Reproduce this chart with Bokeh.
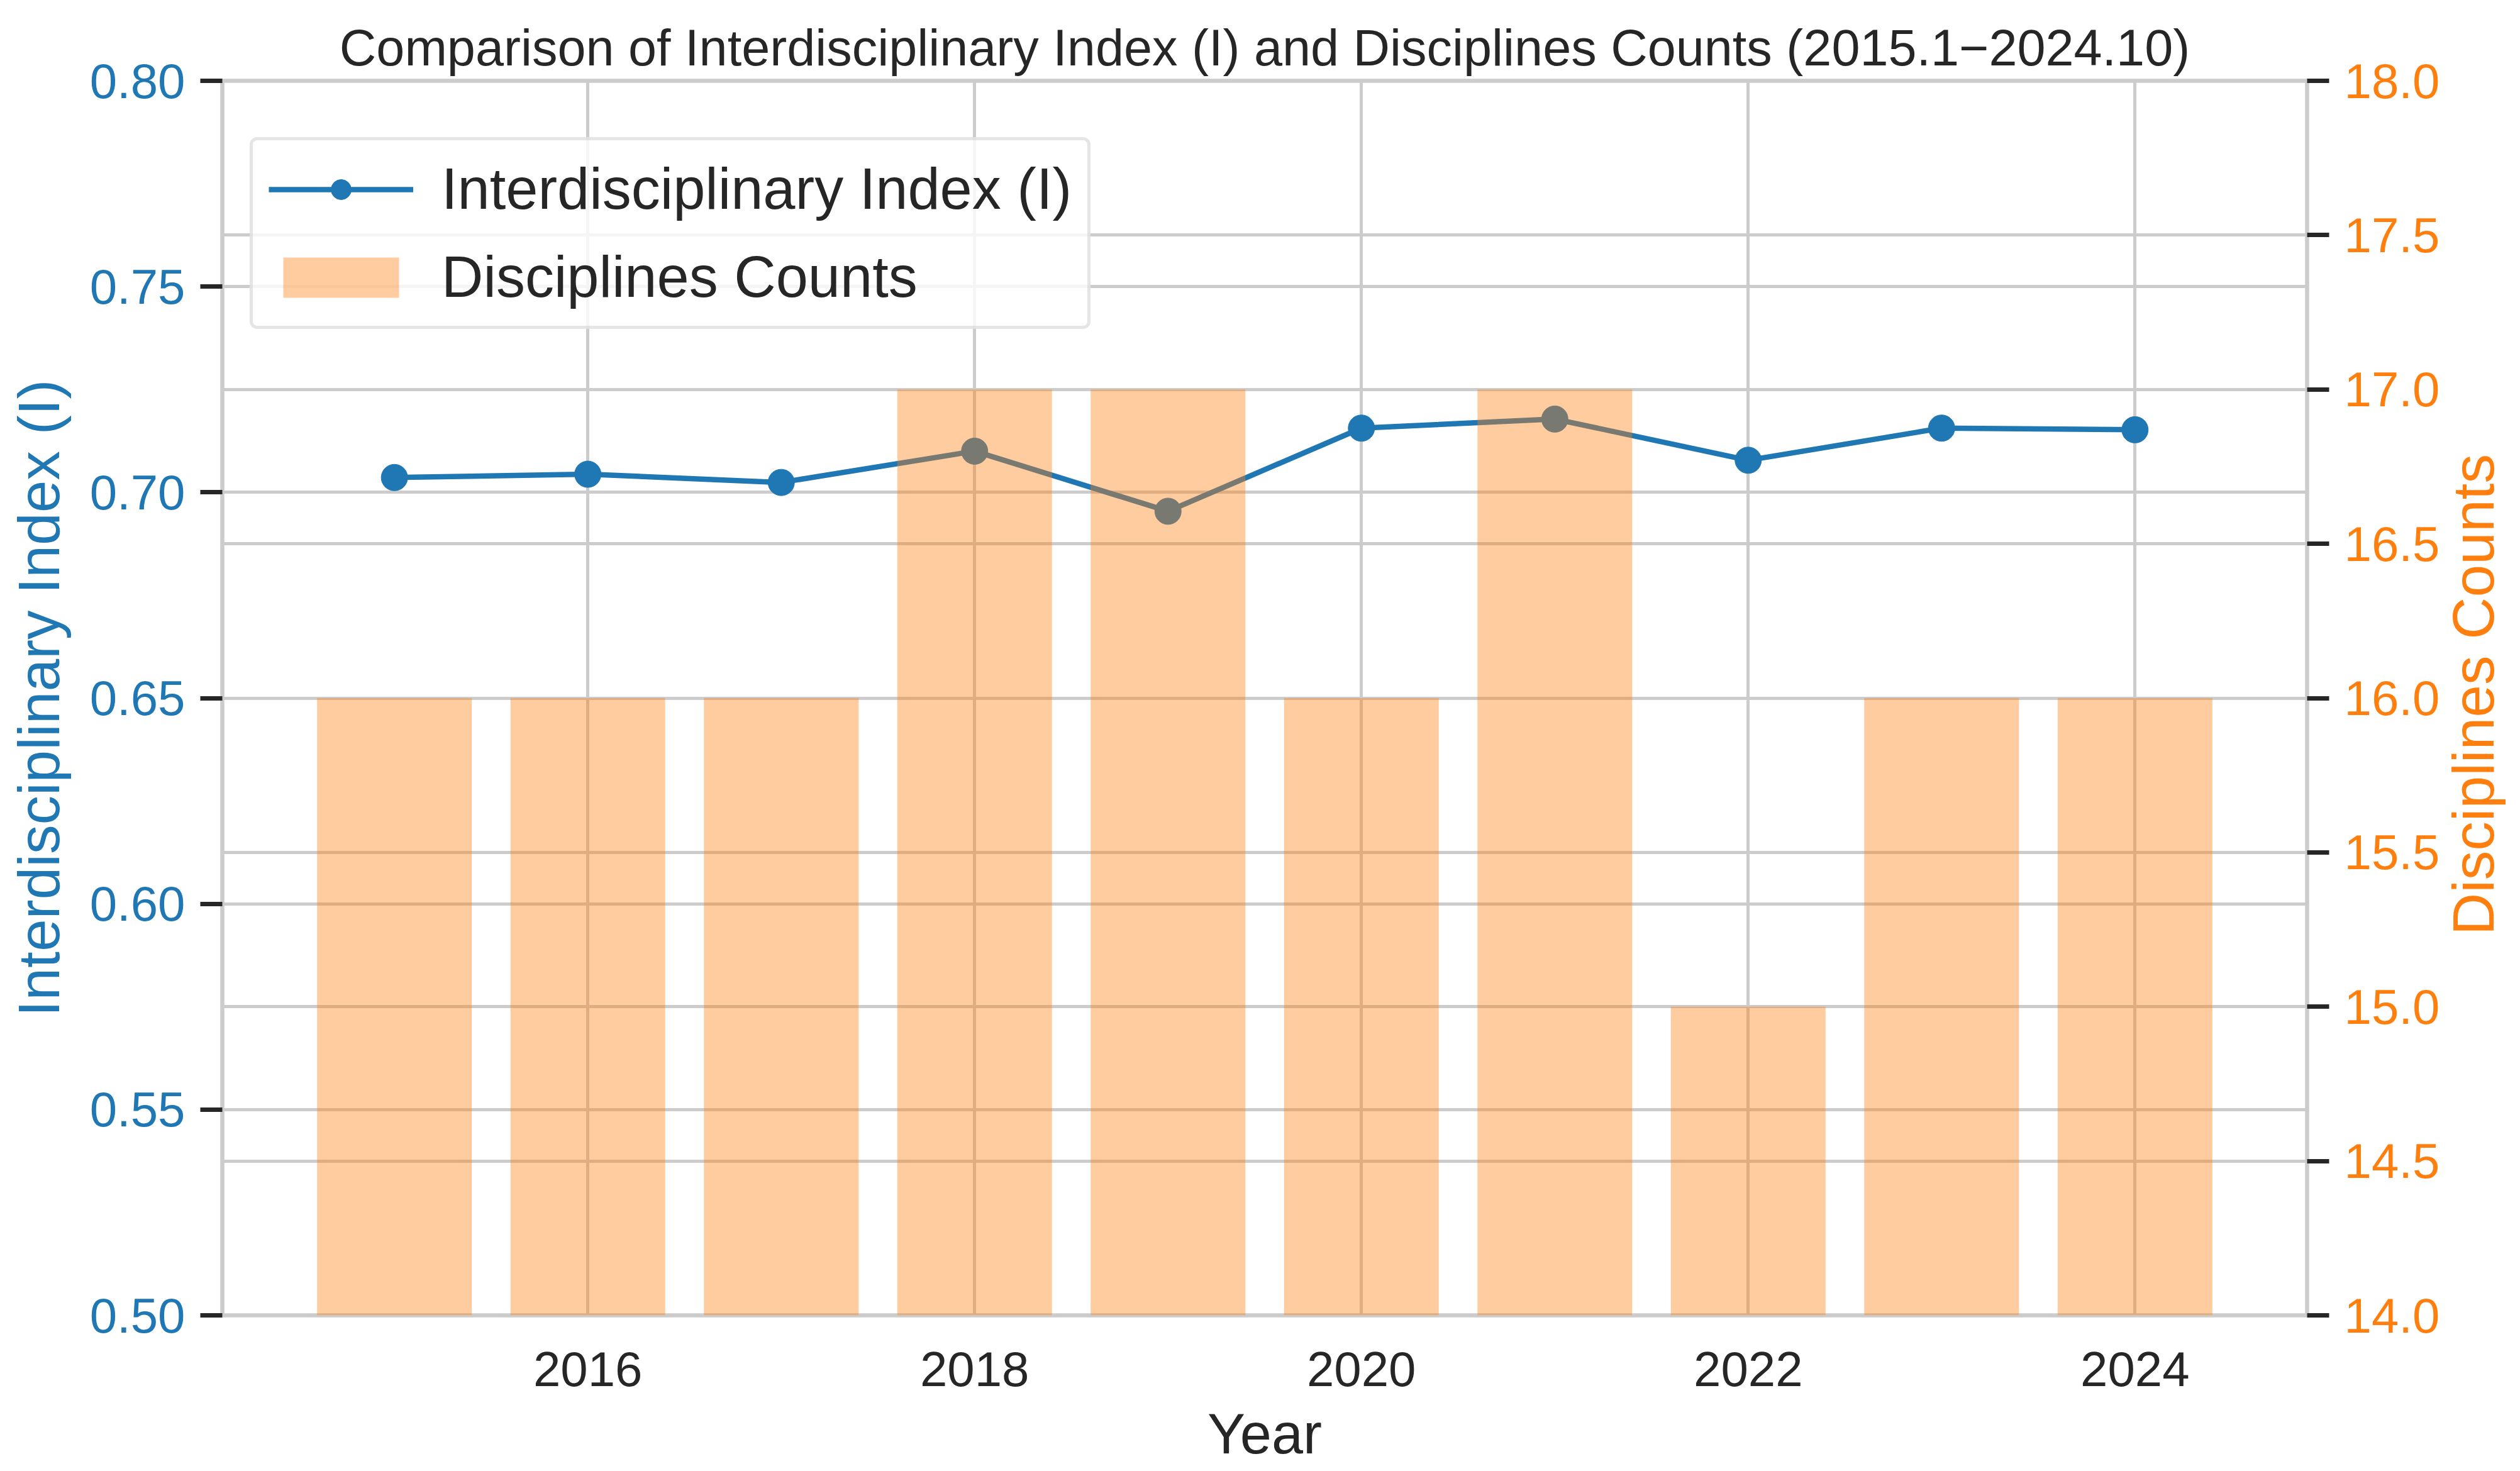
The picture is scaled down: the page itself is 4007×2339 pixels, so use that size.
import math
from bokeh.plotting import figure
from bokeh.layouts import row
from bokeh.models import (Range1d, LinearAxis, FixedTicker, Legend, LegendItem,
                          Grid, NumeralTickFormatter, ColumnDataSource)
from bokeh.core.properties import value
from bokeh.embed import file_html
from bokeh.resources import INLINE

# ---------------- data ----------------
years = [2015, 2016, 2017, 2018, 2019, 2020, 2021, 2022, 2023, 2024]
index_values = [0.7036, 0.7044, 0.7024, 0.7100, 0.6954, 0.7156, 0.7178, 0.7078, 0.7156, 0.7152]
discipline_counts = [16, 16, 16, 17, 17, 16, 17, 15, 16, 16]
x_ticks = [2016, 2018, 2020, 2022, 2024]
left_ticks = [0.50, 0.55, 0.60, 0.65, 0.70, 0.75, 0.80]
right_ticks = [14.0, 14.5, 15.0, 15.5, 16.0, 16.5, 17.0, 17.5, 18.0]

title_text = "Comparison of Interdisciplinary Index (I) and Disciplines Counts (2015.1\u22122024.10)"
x_label = "Year"
left_label = "Interdisciplinary Index (I)"
right_label = "Disciplines Counts"
line_name = "Interdisciplinary Index (I)"
bar_name = "Disciplines Counts"

# ---------------- style ----------------
FONT = "Liberation Sans"
BLUE = "#1f77b4"
ORANGE = "#ff7f0e"
TEXT = "#262626"
GRID = "#cccccc"

W, H = 4007, 2339
WP = 3882                      # main figure width, the rest holds the right axis title
ML, MR, MT, MB = 353, WP - 3671, 128, 248

p = figure(width=WP, height=H, output_backend="svg", toolbar_location=None,
           x_range=Range1d(2014.11, 2024.89), y_range=Range1d(0.50, 0.80),
           min_border_left=ML, min_border_right=MR, min_border_top=MT, min_border_bottom=MB,
           background_fill_color="white", border_fill_color="white")
p.extra_y_ranges = {"counts": Range1d(14.0, 18.0)}

p.outline_line_color = GRID
p.outline_line_width = 6.5

# title
p.title.text = title_text
p.title.text_font = FONT
p.title.text_font_size = "81px"
p.title.text_font_style = "normal"
p.title.text_color = TEXT
p.title.align = "center"
p.title.standoff = 15

# grids
p.xgrid.ticker = FixedTicker(ticks=x_ticks)
p.ygrid.ticker = FixedTicker(ticks=left_ticks)
for g in (p.xgrid, p.ygrid):
    g.grid_line_color = GRID
    g.grid_line_width = 5
g2 = Grid(dimension=1, ticker=FixedTicker(ticks=right_ticks), y_range_name="counts",
          grid_line_color=GRID, grid_line_width=5)
p.add_layout(g2)

# x axis
xa = p.xaxis[0]
xa.ticker = FixedTicker(ticks=x_ticks)
xa.axis_line_color = None
xa.major_tick_line_color = None
xa.minor_tick_line_color = None
xa.major_tick_out = 0
xa.major_tick_in = 0
xa.major_label_standoff = 58
xa.major_label_text_font = FONT
xa.major_label_text_font_size = "78px"
xa.major_label_text_color = TEXT
xa.axis_label = x_label
xa.axis_label_text_font = FONT
xa.axis_label_text_font_size = "90px"
xa.axis_label_text_font_style = "normal"
xa.axis_label_text_color = TEXT
xa.axis_label_standoff = 23

# left y axis
ya = p.yaxis[0]
ya.ticker = FixedTicker(ticks=left_ticks)
ya.formatter = NumeralTickFormatter(format="0.00")
ya.axis_line_color = None
ya.minor_tick_line_color = None
ya.major_tick_line_color = TEXT
ya.major_tick_line_width = 7
ya.major_tick_out = 35
ya.major_tick_in = 0
ya.major_label_standoff = 24
ya.major_label_text_font = FONT
ya.major_label_text_font_size = "78px"
ya.major_label_text_color = BLUE
ya.axis_label = left_label
ya.axis_label_text_font = FONT
ya.axis_label_text_font_size = "93px"
ya.axis_label_text_font_style = "normal"
ya.axis_label_text_color = BLUE
ya.axis_label_standoff = 26

# right y axis
ra = LinearAxis(y_range_name="counts", ticker=FixedTicker(ticks=right_ticks),
                formatter=NumeralTickFormatter(format="0.0"))
ra.axis_line_color = None
ra.minor_tick_line_color = None
ra.major_tick_line_color = TEXT
ra.major_tick_line_width = 7
ra.major_tick_out = 35
ra.major_tick_in = 0
ra.major_label_standoff = 24
ra.major_label_text_font = FONT
ra.major_label_text_font_size = "78px"
ra.major_label_text_color = ORANGE
p.add_layout(ra, "right")

# ---------------- glyphs ----------------
src = ColumnDataSource(data=dict(year=years, idx=index_values, cnt=discipline_counts))
line_r = p.line("year", "idx", source=src, line_color=BLUE, line_width=8.5)
pts_r = p.scatter("year", "idx", source=src, size=42, fill_color=BLUE, line_color=BLUE)
bar_r = p.vbar(x="year", top="cnt", bottom=0, width=0.8, source=src, y_range_name="counts",
               fill_color=ORANGE, fill_alpha=0.4, line_color=None)

# ---------------- legend ----------------
legend = Legend(items=[LegendItem(label=line_name, renderers=[line_r, pts_r]),
                       LegendItem(label=bar_name, renderers=[bar_r])],
                location=(44, 1568))
legend.label_text_font = FONT
legend.label_text_font_size = "92px"
legend.label_text_color = TEXT
legend.glyph_width = 230
legend.glyph_height = 80
legend.label_standoff = 45
legend.padding = 25
legend.spacing = 35
legend.margin = 0
legend.border_line_color = GRID
legend.border_line_width = 5
legend.background_fill_color = "white"
legend.background_fill_alpha = 0.8
try:
    legend.border_radius = 12
except Exception:
    pass
p.add_layout(legend)

# ---------------- right axis title (reads bottom to top) ----------------
WQ = W - WP
q = figure(width=WQ, height=H, output_backend="svg", toolbar_location=None,
           x_range=Range1d(0, WQ), y_range=Range1d(0, H),
           min_border_left=0, min_border_right=0, min_border_top=0, min_border_bottom=0,
           background_fill_color="white", border_fill_color="white")
q.axis.visible = False
q.grid.visible = False
q.outline_line_color = None
label_x = 3932.0 - WP            # pixel column of the label inside the side strip
label_y = H - 1110.0 - 53.0      # vertical centre of the frame, corrected for text anchoring
q.text(x=[label_x], y=[label_y], text=[right_label], angle=math.pi / 2,
       text_align="center", text_baseline="alphabetic", text_font=value(FONT),
       text_font_size="93px", text_color=ORANGE)

layout = row(p, q, spacing=0)
open("out.html", "w").write(file_html(layout, INLINE))
